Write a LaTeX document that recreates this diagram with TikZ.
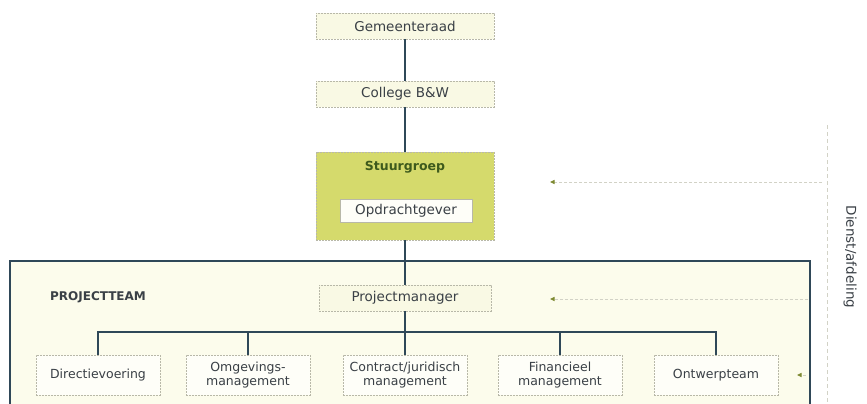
\documentclass[tikz,border=0pt]{standalone}
\usepackage{fontspec}
\setmainfont{DejaVu Sans}
\usetikzlibrary{arrows.meta}
\definecolor{linec}{HTML}{2F4858}
\definecolor{boxborder}{HTML}{B8B8A8}
\definecolor{boxfill}{HTML}{F9F9E4}
\definecolor{whitefill}{HTML}{FEFEF8}
\definecolor{stuurfill}{HTML}{D5DA6C}
\definecolor{stuurtext}{HTML}{3E5A1C}
\definecolor{ptfill}{HTML}{FCFCEC}
\definecolor{textc}{HTML}{3A4046}
\definecolor{dashc}{HTML}{D2D2C6}
\definecolor{tipc}{HTML}{7E8A32}
\begin{document}
\begin{tikzpicture}[x=1pt,y=-1pt,
  topbox/.style={draw=boxborder, dash pattern=on 2pt off 1pt, fill=boxfill, minimum width=178pt, minimum height=26pt, inner sep=0pt, font=\fontsize{13.5}{15}\selectfont, text=textc},
  innerbox/.style={draw=boxborder, fill=whitefill, minimum width=132pt, minimum height=23pt, inner sep=0pt, font=\fontsize{13.5}{15}\selectfont, text=textc},
  botbox/.style={draw=boxborder, dash pattern=on 2pt off 1pt, fill=whitefill, minimum width=124pt, minimum height=40pt, inner sep=0pt, align=center, font=\fontsize{12.5}{14}\selectfont, text=textc},
  stuurbox/.style={draw=boxborder, dash pattern=on 2pt off 1pt, fill=stuurfill, minimum width=178pt, minimum height=88pt, inner sep=0pt},
  conn/.style={draw=linec, line width=1.5pt},
  frame/.style={draw=linec, line width=1.2pt},
  dasharrow/.style={draw=dashc, line width=1pt, dash pattern=on 3pt off 2pt, -{Triangle[length=4.5pt,width=4pt,color=tipc]}},
]
\useasboundingbox (0,0) rectangle (867,404);
\fill[white] (0,0) rectangle (867,404);
% projectteam frame
\fill[ptfill] (10,261) rectangle (810,404);
\draw[frame] (10,404) -- (10,261) -- (810,261) -- (810,404);
\node[font=\bfseries\fontsize{12}{14}\selectfont, text=textc] (ptl) at (98,297) {PROJECTTEAM};

% top chain
\node[topbox] (gem) at (405,26) {Gemeenteraad};
\node[topbox] (col) at (405,94) {College B\&W};
\node[stuurbox] (stu) at (405,196) {};
\node[font=\bfseries\fontsize{12.5}{14}\selectfont, text=stuurtext] (stul) at (405,167) {Stuurgroep};
\node[innerbox] (opd) at (406,211) {Opdrachtgever};
\node[topbox, minimum width=172pt] (pm) at (405,298) {Projectmanager};

% bottom row
\node[botbox] (dir) at (98,375) {Directievoering};
\node[botbox] (omg) at (248,375) {Omgevings-\\management};
\node[botbox] (con) at (405,375) {Contract/juridisch\\management};
\node[botbox] (fin) at (560,375) {Financieel\\management};
\node[botbox] (ont) at (716,375) {Ontwerpteam};

% connectors
\draw[conn] (gem) -- (col);
\draw[conn] (col) -- (stu);
\draw[conn] (stu.south) -- (pm.north);
\draw[conn] (pm) -- (con);
\draw[conn] (dir.north) |- (ont.north |- 0,332) -- (ont.north);
\draw[conn] (omg.north) -- (omg.north |- 0,332);
\draw[conn] (fin.north) -- (fin.north |- 0,332);

% right side
\coordinate (v1) at (827,125);
\coordinate (v2) at (827,404);
\draw[draw=dashc, line width=1pt, dash pattern=on 4pt off 3pt] (v1) -- (v2);
\coordinate (a1s) at (822,182);
\coordinate (a1e) at (550,182);
\coordinate (a2s) at (808,299);
\coordinate (a2e) at (550,299);
\coordinate (a3s) at (806,375);
\coordinate (a3e) at (797,375);
\draw[dasharrow] (a1s) -- (a1e);
\draw[dasharrow] (a2s) -- (a2e);
\draw[dasharrow] (a3s) -- (a3e);
\node[rotate=-90, font=\fontsize{13.5}{15}\selectfont, text=textc] (dien) at (850,257) {Dienst/afdeling};
\end{tikzpicture}
\end{document}
